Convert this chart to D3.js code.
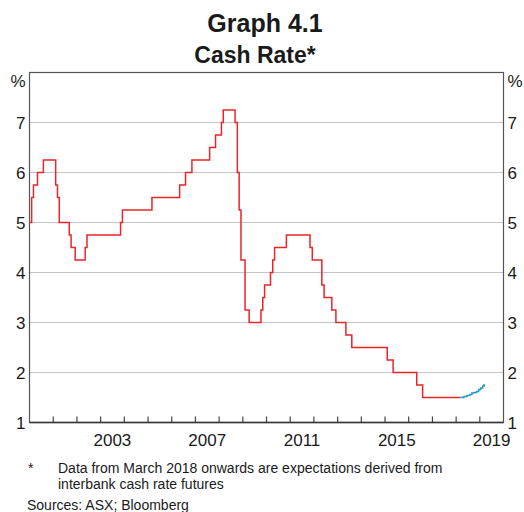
<!DOCTYPE html>
<html lang="en">
<head>
    <meta charset="UTF-8">
    <title>Graph 4.1 Cash Rate</title>
    <script src="https://d3js.org/d3.v7.js"></script>
    <style>
        body { margin: 0; background: #fff; }
        text { font-family: "Liberation Sans", Arial, sans-serif; fill: #1a1a1a; }
    </style>
</head>
<body>
    <svg></svg>
    <script>
        // cash rate target changes (date of change, new rate)
        const rateDates = ["2000-01-01", "2000-02-03", "2000-03-02", "2000-05-03", "2000-08-02",
            "2001-02-07", "2001-03-07", "2001-04-04", "2001-09-05", "2001-10-03", "2001-12-05",
            "2002-05-08", "2002-06-05", "2003-11-05", "2003-12-03", "2005-03-02", "2006-05-03",
            "2006-08-02", "2006-11-08", "2007-08-08", "2007-11-07", "2008-02-06", "2008-03-05",
            "2008-09-03", "2008-10-08", "2008-11-05", "2008-12-03", "2009-02-04", "2009-04-08",
            "2009-10-07", "2009-11-04", "2009-12-02", "2010-03-03", "2010-04-07", "2010-05-05",
            "2010-11-03", "2011-11-02", "2011-12-07", "2012-05-02", "2012-06-06", "2012-10-03",
            "2012-12-05", "2013-05-08", "2013-08-07", "2015-02-04", "2015-05-06", "2016-05-04",
            "2016-08-03", "2018-03-01"];
        const rateValues = [5.00, 5.50, 5.75, 6.00, 6.25,
            5.75, 5.50, 5.00, 4.75, 4.50, 4.25,
            4.50, 4.75, 5.00, 5.25, 5.50, 5.75,
            6.00, 6.25, 6.50, 6.75, 7.00, 7.25,
            7.00, 6.00, 5.25, 4.25, 3.25, 3.00,
            3.25, 3.50, 3.75, 4.00, 4.25, 4.50,
            4.75, 4.50, 4.25, 3.75, 3.50, 3.25,
            3.00, 2.75, 2.50, 2.25, 2.00, 1.75,
            1.50, 1.50];

        // futures-implied expectations from March 2018
        const futDates = ["2018-03-01", "2018-05-01", "2018-06-15", "2018-08-01", "2018-09-01",
            "2018-10-01", "2018-11-15", "2018-12-15", "2019-01-15", "2019-02-15", "2019-03-10"];
        const futValues = [1.50, 1.52, 1.54, 1.56, 1.59, 1.60, 1.62, 1.66, 1.69, 1.73, 1.77];

        const yTicks = [1, 2, 3, 4, 5, 6, 7];
        const yearLabels = [2003, 2007, 2011, 2015, 2019];

        const width = 524, height = 512;
        const mLeft = 29.5, mRight = 503.5, mTop = 72.5, mBottom = 422.5;

        const svg = d3.select("svg")
            .attr("width", width)
            .attr("height", height);

        const x = d3.scaleTime()
            .domain([new Date(2000, 0, 1), new Date(2020, 0, 1)])
            .range([mLeft, mRight]);
        const y = d3.scaleLinear()
            .domain([1, 8])
            .range([mBottom, mTop]);

        // titles
        svg.append("text").attr("x", 265).attr("y", 32)
            .attr("text-anchor", "middle").style("font-size", "25px").style("font-weight", "bold")
            .text("Graph 4.1");
        svg.append("text").attr("x", 255).attr("y", 63)
            .attr("text-anchor", "middle").style("font-size", "23px").style("font-weight", "bold")
            .text("Cash Rate*");

        // grid lines
        svg.append("g").selectAll("line")
            .data(yTicks.filter(d => d > 1))
            .join("line")
            .attr("x1", mLeft).attr("x2", mRight)
            .attr("y1", d => y(d)).attr("y2", d => y(d))
            .style("stroke", "#c4c4c4").style("stroke-width", 1.2);

        // y labels both sides
        const yl = svg.append("g").style("font-size", "17px");
        yl.selectAll(".yl").data(yTicks).join("text")
            .attr("x", mLeft - 4).attr("y", d => y(d)).attr("dy", "0.36em")
            .attr("text-anchor", "end").text(d => d);
        yl.selectAll(".yr").data(yTicks).join("text")
            .attr("x", mRight + 4).attr("y", d => y(d)).attr("dy", "0.36em")
            .attr("text-anchor", "start").text(d => d);
        yl.append("text").attr("x", mLeft - 4).attr("y", y(8) + 8).attr("dy", "0.36em")
            .attr("text-anchor", "end").text("%");
        yl.append("text").attr("x", mRight + 4).attr("y", y(8) + 8).attr("dy", "0.36em")
            .attr("text-anchor", "start").text("%");

        // frame
        svg.append("rect")
            .attr("x", mLeft).attr("y", mTop)
            .attr("width", mRight - mLeft).attr("height", mBottom - mTop)
            .style("fill", "none").style("stroke", "#555").style("stroke-width", 1.2);

        // year ticks on bottom axis
        const years = d3.timeYear.range(new Date(2001, 0, 1), new Date(2020, 0, 1));
        svg.append("g").selectAll("line")
            .data(years)
            .join("line")
            .attr("x1", d => x(d)).attr("x2", d => x(d))
            .attr("y1", mBottom).attr("y2", mBottom - 6)
            .style("stroke", "#444").style("stroke-width", 1.2);
        svg.append("line")
            .attr("x1", mLeft).attr("x2", mRight).attr("y1", mBottom).attr("y2", mBottom)
            .style("stroke", "#333").style("stroke-width", 1.5);

        svg.append("g").style("font-size", "17px")
            .selectAll("text")
            .data(yearLabels)
            .join("text")
            .attr("x", d => x(new Date(d, 6, 2)))
            .attr("y", 446)
            .attr("text-anchor", "middle")
            .text(d => d);

        // series
        const line = d3.line()
            .x(d => x(d[0]))
            .y(d => y(d[1]))
            .curve(d3.curveStepAfter);

        const parse = d3.timeParse("%Y-%m-%d");
        const rateData = rateDates.map((d, i) => [parse(d), rateValues[i]]);
        const futData = futDates.map((d, i) => [parse(d), futValues[i]]);

        svg.append("path")
            .datum(rateData)
            .attr("d", line)
            .style("fill", "none").style("stroke", "#e8262b").style("stroke-width", 1.5);
        svg.append("path")
            .datum(futData)
            .attr("d", line)
            .style("fill", "none").style("stroke", "#2a9bbf").style("stroke-width", 1.5);

        // notes
        const notes = svg.append("g").style("font-size", "14px");
        notes.append("text").attr("x", 28).attr("y", 473).text("*");
        notes.append("text").attr("x", 58).attr("y", 473)
            .text("Data from March 2018 onwards are expectations derived from");
        notes.append("text").attr("x", 58).attr("y", 489)
            .text("interbank cash rate futures");
        notes.append("text").attr("x", 27).attr("y", 510)
            .text("Sources: ASX; Bloomberg");
    </script>
</body>
</html>
